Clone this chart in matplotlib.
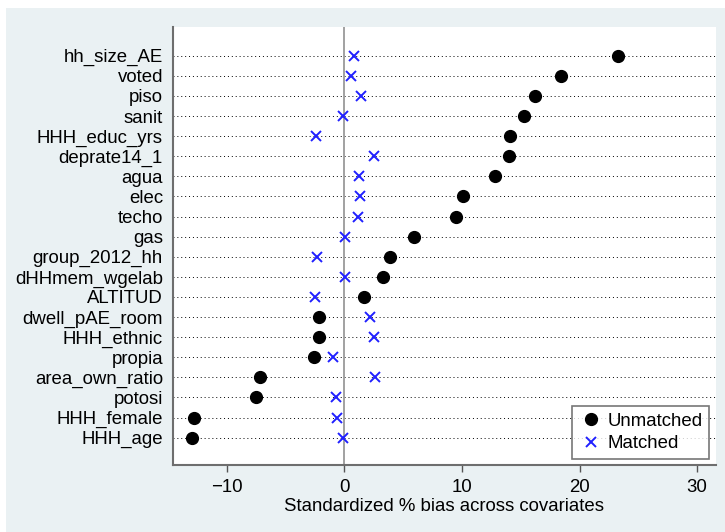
import matplotlib
matplotlib.use("Agg")
import matplotlib.pyplot as plt
import matplotlib.patches as mpatches

plt.rcParams['font.family'] = ['Liberation Sans', 'DejaVu Sans']

covariates = ['hh_size_AE', 'voted', 'piso', 'sanit', 'HHH_educ_yrs', 'deprate14_1',
              'agua', 'elec', 'techo', 'gas', 'group_2012_hh', 'dHHmem_wgelab',
              'ALTITUD', 'dwell_pAE_room', 'HHH_ethnic', 'propia', 'area_own_ratio',
              'potosi', 'HHH_female', 'HHH_age']
unmatched = [23.3, 18.4, 16.2, 15.3, 14.1, 14.0, 12.8, 10.1, 9.5, 5.9, 3.9, 3.3,
             1.7, -2.15, -2.2, -2.6, -7.2, -7.5, -12.8, -13.0]
matched = [0.85, 0.57, 1.4, -0.14, -2.4, 2.55, 1.25, 1.3, 1.15, 0.06, -2.35, 0.06,
           -2.5, 2.2, 2.5, -0.93, 2.6, -0.73, -0.65, -0.08]
xticks = [-10, 0, 10, 20, 30]

FS = 13.4
W, H = 725, 532
fig = plt.figure(figsize=(W / 100, H / 100), dpi=100)
fig.patch.set_facecolor('white')
# light panel behind the graph (stata style)
fig.patches.append(mpatches.Rectangle((6 / W, 0), 1 - 6 / W, 1 - 8 / H,
                                      transform=fig.transFigure,
                                      facecolor='#eaf1f3', edgecolor='none', zorder=-5))

ax = fig.add_axes([172.7 / W, 1 - 465 / H, (716 - 172.7) / W, (465 - 27) / H])
ax.set_facecolor('white')

n = len(covariates)
ypos = list(range(n - 1, -1, -1))

for y in ypos:
    ax.axhline(y, color='black', lw=0.7, linestyle=(0, (1, 3)), zorder=1)
ax.axvline(0, color='#9a9a9a', lw=1.3, zorder=1)

ax.plot(unmatched, ypos, 'o', color='black', markersize=8.5, linestyle='none',
        label='Unmatched', zorder=3)
ax.plot(matched, ypos, 'x', color='#2020ff', markersize=7.5, markeredgewidth=1.4,
        linestyle='none', label='Matched', zorder=3)

ax.set_xlim(-14.6, 31.6)
ax.set_ylim(-1.36, n - 1 + 1.43)
ax.set_yticks(ypos)
ax.set_yticklabels(covariates, fontsize=FS)
ax.set_xticks(xticks)
ax.tick_params(axis='y', length=0, pad=7)
ax.tick_params(axis='x', length=5, width=1, color='#555555', labelsize=FS, pad=5)

for s in ['top', 'right']:
    ax.spines[s].set_visible(False)
for s in ['left', 'bottom']:
    ax.spines[s].set_color('#6e6e6e')
    ax.spines[s].set_linewidth(1.5)

ax.set_xlabel('Standardized % bias across covariates', fontsize=FS, labelpad=1.5)

leg = ax.legend(loc='lower right', bbox_to_anchor=(709 / W, 1 - 459 / H),
                bbox_transform=fig.transFigure, fontsize=FS, frameon=True,
                fancybox=False, borderpad=0.35, handletextpad=0.25, handlelength=1.3,
                labelspacing=0.3, borderaxespad=0)
leg.get_frame().set_edgecolor('#555555')
leg.get_frame().set_linewidth(1.2)

fig.savefig('out.png', dpi=100)
